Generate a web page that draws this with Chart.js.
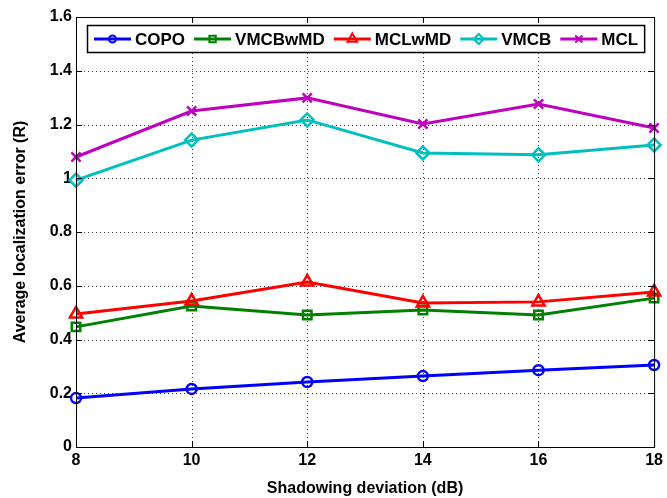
<!DOCTYPE html>
<html>
<head>
<meta charset="utf-8">
<script src="https://cdn.jsdelivr.net/npm/chart.js@4/dist/chart.umd.min.js"></script>
<style>
    html, body { margin: 0; padding: 0; background: #fff; }
    #wrap { width: 667px; height: 498px; }
</style>
</head>
<body>
<div id="wrap"><canvas id="chart" width="667" height="498"></canvas></div>
<script>
// chart data
const shadowing = [8, 10, 12, 14, 16, 18];
const copo = [0.182, 0.216, 0.242, 0.264, 0.286, 0.305];
const vmcbwmd = [0.447, 0.525, 0.491, 0.510, 0.491, 0.554];
const mclwmd = [0.495, 0.543, 0.614, 0.536, 0.540, 0.577];
const vmcb = [0.993, 1.142, 1.217, 1.094, 1.087, 1.124];
const mcl = [1.079, 1.250, 1.299, 1.202, 1.276, 1.187];

// tick labels
const xTicks = [8, 10, 12, 14, 16, 18];
const xTickLabels = ['8', '10', '12', '14', '16', '18'];
const yTicks = [0, 0.2, 0.4, 0.6, 0.8, 1.0, 1.2, 1.4, 1.6];
const yTickLabels = ['0', '0.2', '0.4', '0.6', '0.8', '1', '1.2', '1.4', '1.6'];

const FONT = "'Liberation Sans', Arial, Helvetica, sans-serif";
Chart.defaults.font.family = FONT;
Chart.defaults.font.weight = 'bold';
Chart.defaults.font.size = 16;
Chart.defaults.color = '#000';

// one line series
function makeSeries(label, values, color, pointStyle, radius, legendRadius, order) {
    return {
        label: label,
        data: shadowing.map((x, i) => ({ x: x, y: values[i] })),
        borderColor: color,
        backgroundColor: color,
        pointBorderColor: color,
        pointBackgroundColor: 'rgba(0,0,0,0)',
        borderWidth: 3,
        pointStyle: pointStyle,
        pointRadius: radius,
        pointHoverRadius: radius,
        pointBorderWidth: 2.5,
        legendRadius: legendRadius,
        clip: false,
        order: order
    };
}

// grid, box, inward ticks and legend, MATLAB style
const matlabAxes = {
    id: 'matlabAxes',
    beforeDatasetsDraw(chart) {
        const { ctx, chartArea: a, scales: { x, y } } = chart;
        ctx.save();
        ctx.strokeStyle = '#444';
        ctx.lineWidth = 1;
        ctx.setLineDash([1, 3]);
        yTicks.slice(1, -1).forEach(v => {
            const py = Math.round(y.getPixelForValue(v)) + 0.5;
            ctx.beginPath(); ctx.moveTo(a.left, py); ctx.lineTo(a.right, py); ctx.stroke();
        });
        xTicks.slice(1, -1).forEach(v => {
            const px = Math.round(x.getPixelForValue(v)) + 0.5;
            ctx.beginPath(); ctx.moveTo(px, a.top); ctx.lineTo(px, a.bottom); ctx.stroke();
        });
        ctx.restore();
    },
    afterDatasetsDraw(chart) {
        const { ctx, chartArea: a, scales: { x, y } } = chart;
        const tl = 6;
        ctx.save();
        ctx.strokeStyle = '#000';
        ctx.lineWidth = 1;
        ctx.strokeRect(a.left + 0.5, a.top + 0.5, a.right - a.left, a.bottom - a.top);
        ctx.beginPath();
        yTicks.forEach(v => {
            const py = Math.round(y.getPixelForValue(v)) + 0.5;
            ctx.moveTo(a.left, py); ctx.lineTo(a.left + tl, py);
            ctx.moveTo(a.right, py); ctx.lineTo(a.right - tl, py);
        });
        xTicks.forEach(v => {
            const px = Math.round(x.getPixelForValue(v)) + 0.5;
            ctx.moveTo(px, a.bottom); ctx.lineTo(px, a.bottom - tl);
            ctx.moveTo(px, a.top); ctx.lineTo(px, a.top + tl);
        });
        ctx.stroke();

        // legend
        ctx.font = `bold 17px ${FONT}`;
        const lineLen = 37, gapText = 4, gapItem = 9;
        const boxLeft = 87, boxTop = 25, boxH = 27, startX = 94;
        const items = chart.data.datasets;
        let total = startX - boxLeft;
        items.forEach((ds, i) => {
            total += lineLen + gapText + ctx.measureText(ds.label).width;
            if (i < items.length - 1) total += gapItem;
        });
        total += 6;
        ctx.fillStyle = '#fff';
        ctx.fillRect(boxLeft, boxTop, total, boxH);
        ctx.lineWidth = 1.5;
        ctx.strokeRect(boxLeft + 0.5, boxTop + 0.5, total, boxH);
        const cy = boxTop + boxH / 2 + 0.5;
        let px = startX;
        items.forEach(ds => {
            ctx.strokeStyle = ds.borderColor;
            ctx.lineWidth = 3;
            ctx.beginPath(); ctx.moveTo(px, cy); ctx.lineTo(px + lineLen, cy); ctx.stroke();
            ctx.lineWidth = 2;
            ctx.fillStyle = 'rgba(0,0,0,0)';
            Chart.helpers.drawPoint(ctx, {
                pointStyle: ds.pointStyle, radius: ds.legendRadius, rotation: 0, borderWidth: 2
            }, px + lineLen / 2, cy);
            px += lineLen + gapText;
            ctx.fillStyle = '#000';
            ctx.textBaseline = 'middle';
            ctx.textAlign = 'left';
            ctx.fillText(ds.label, px, cy + 1);
            px += ctx.measureText(ds.label).width + gapItem;
        });
        ctx.restore();
    }
};

new Chart(document.getElementById('chart').getContext('2d'), {
    type: 'line',
    data: {
        datasets: [
            makeSeries('COPO', copo, '#0000FF', 'circle', 5, 3.5, 5),
            makeSeries('VMCBwMD', vmcbwmd, '#008000', 'rect', 6, 4.5, 4),
            makeSeries('MCLwMD', mclwmd, '#FF0000', 'triangle', 7, 5.5, 3),
            makeSeries('VMCB', vmcb, '#00BFBF', 'rectRot', 6.5, 5, 2),
            makeSeries('MCL', mcl, '#BF00BF', 'crossRot', 6.5, 5, 1)
        ]
    },
    options: {
        responsive: false,
        animation: false,
        layout: { padding: { top: 17, right: 8, left: 0, bottom: 0 } },
        plugins: {
            legend: { display: false },
            tooltip: { enabled: false }
        },
        scales: {
            x: {
                type: 'linear',
                min: 8,
                max: 18,
                afterBuildTicks: s => { s.ticks = xTicks.map(v => ({ value: v })); },
                afterFit: s => { s.height = 51; },
                ticks: {
                    padding: 4,
                    maxRotation: 0,
                    autoSkip: false,
                    callback: (v, i) => xTickLabels[i]
                },
                grid: { display: false, drawTicks: false },
                border: { display: false },
                title: { display: true, text: 'Shadowing deviation (dB)', padding: 0 }
            },
            y: {
                type: 'linear',
                min: 0,
                max: 1.6,
                afterBuildTicks: s => { s.ticks = yTicks.map(v => ({ value: v })); },
                afterFit: s => { s.width = 76; },
                ticks: {
                    padding: 4,
                    autoSkip: false,
                    callback: (v, i) => yTickLabels[i]
                },
                grid: { display: false, drawTicks: false },
                border: { display: false },
                title: { display: true, text: 'Average localization error (R)', padding: { top: 11, bottom: 0 } }
            }
        }
    },
    plugins: [matlabAxes]
});
</script>
</body>
</html>
